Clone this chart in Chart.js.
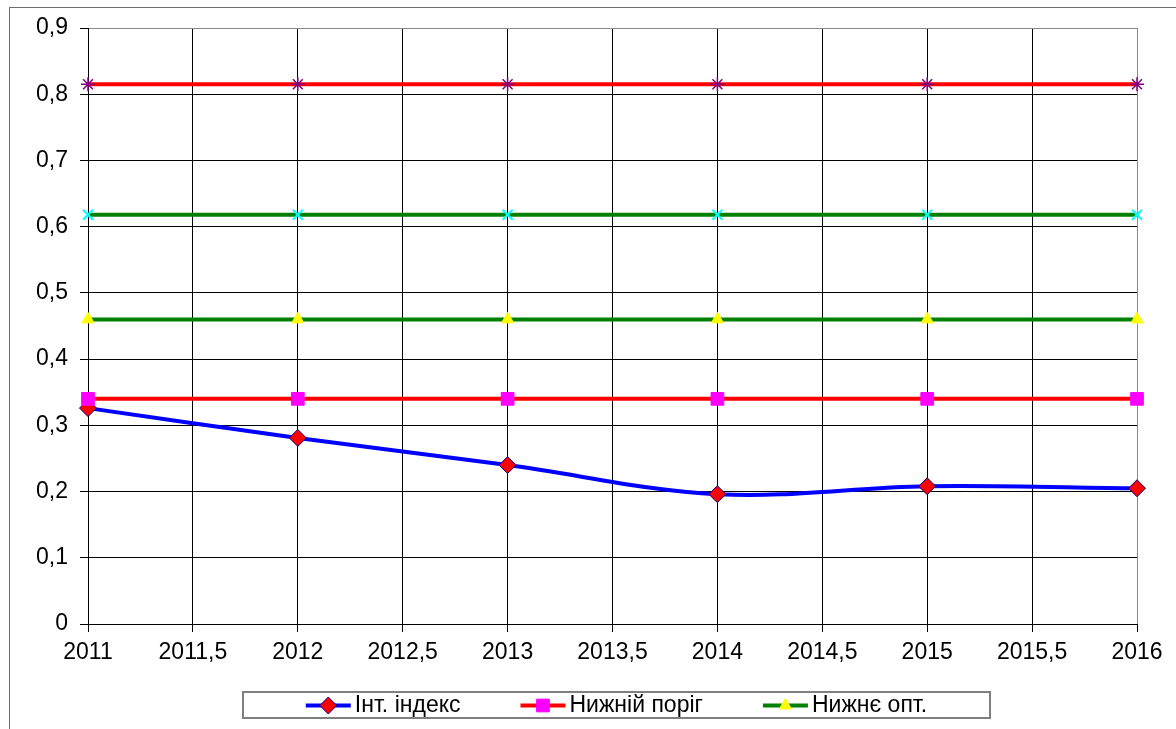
<!DOCTYPE html>
<html>
<head>
<meta charset="utf-8">
<script src="https://cdn.jsdelivr.net/npm/chart.js@4.4.0/dist/chart.umd.min.js"></script>
<style>
    html, body { margin: 0; padding: 0; background: #fff; }
    #wrap { width: 1176px; height: 729px; }
</style>
</head>
<body>
<div id="wrap"><canvas id="indexChart" width="1176" height="729"></canvas></div>
<script>
// дані
var years = [2011, 2012, 2013, 2014, 2015, 2016];
var intIndex = [0.326, 0.281, 0.240, 0.196, 0.208, 0.205];
var lowerThreshold = [0.34, 0.34, 0.34, 0.34, 0.34, 0.34];
var lowerOpt = [0.46, 0.46, 0.46, 0.46, 0.46, 0.46];
var upperOpt = [0.618, 0.618, 0.618, 0.618, 0.618, 0.618];
var upperThreshold = [0.815, 0.815, 0.815, 0.815, 0.815, 0.815];
var seriesNames = ['Інт. індекс', 'Нижній поріг', 'Нижнє опт.', 'Верхнє опт.', 'Верхній поріг'];
var xMin = 2011, xMax = 2016, xStep = 0.5;
var yMin = 0, yMax = 0.9, yStep = 0.1;

var FONT = '"Liberation Sans", Arial, sans-serif';
Chart.defaults.font.family = FONT;
Chart.defaults.font.size = 23;
Chart.defaults.color = '#000';

function points(values) {
    var pts = [];
    for (var i = 0; i < years.length; i++) {
        pts.push({ x: years[i], y: values[i] });
    }
    return pts;
}

function comma(v) {
    return String(v).replace('.', ',');
}

// рамка області діаграми (видно лише зліва та зверху)
var frame = {
    id: 'frame',
    beforeDraw: function (chart) {
        var ctx = chart.ctx;
        ctx.save();
        ctx.strokeStyle = '#6e6e6e';
        ctx.lineWidth = 1;
        ctx.strokeRect(9.5, 7.5, 1400, 900);
        ctx.restore();
    }
};

// легенда в рамці, як в Excel: лінія + маркер + підпис
var boxLegend = {
    id: 'boxLegend',
    afterDraw: function (chart) {
        var ctx = chart.ctx;
        var box = { x: 243, y: 692, w: 747, h: 26 };
        var lineLen = 45, textGap = 4, itemGap = 60;
        var shown = [0, 1, 2];

        ctx.save();
        ctx.font = '23px ' + FONT;
        var widths = shown.map(function (i) {
            return lineLen + textGap + ctx.measureText(chart.data.datasets[i].label).width;
        });
        var total = widths.reduce(function (a, b) { return a + b; }, 0) + itemGap * (shown.length - 1);
        var x = box.x + (box.w - total) / 2;
        var cy = box.y + box.h / 2 + 0.5;

        ctx.strokeStyle = '#7f7f7f';
        ctx.lineWidth = 2;
        ctx.strokeRect(box.x, box.y, box.w, box.h);

        shown.forEach(function (i, k) {
            var ds = chart.data.datasets[i];
            ctx.strokeStyle = ds.borderColor;
            ctx.lineWidth = ds.borderWidth;
            ctx.beginPath();
            ctx.moveTo(x, cy);
            ctx.lineTo(x + lineLen, cy);
            ctx.stroke();

            ctx.fillStyle = ds.pointBackgroundColor;
            ctx.strokeStyle = ds.pointBorderColor;
            ctx.lineWidth = ds.pointBorderWidth;
            Chart.helpers.drawPoint(ctx, {
                pointStyle: ds.pointStyle,
                radius: ds.pointRadius,
                rotation: 0,
                borderWidth: ds.pointBorderWidth
            }, x + lineLen / 2, cy);

            ctx.fillStyle = '#000';
            ctx.textAlign = 'left';
            ctx.textBaseline = 'middle';
            ctx.fillText(ds.label, x + lineLen + textGap, cy);
            x += widths[k] + itemGap;
        });
        ctx.restore();
    }
};

var context = document.getElementById('indexChart').getContext('2d');
var indexChart = new Chart(context, {
    type: 'line',
    data: {
        datasets: [{
            label: seriesNames[0],
            data: points(intIndex),
            borderColor: '#0000FF',
            borderWidth: 4,
            tension: 0.35,
            pointStyle: 'rectRot',
            pointRadius: 8.5,
            pointBackgroundColor: '#FF0000',
            pointBorderColor: '#000080',
            pointBorderWidth: 1,
            order: 5
        }, {
            label: seriesNames[1],
            data: points(lowerThreshold),
            borderColor: '#FF0000',
            borderWidth: 4,
            pointStyle: 'rect',
            pointRadius: 9,
            pointBackgroundColor: '#FF00FF',
            pointBorderColor: '#FF00FF',
            pointBorderWidth: 1,
            order: 4
        }, {
            label: seriesNames[2],
            data: points(lowerOpt),
            borderColor: '#008000',
            borderWidth: 4,
            pointStyle: 'triangle',
            pointRadius: 7,
            pointBackgroundColor: '#FFFF00',
            pointBorderColor: '#FFFF00',
            pointBorderWidth: 1,
            order: 3
        }, {
            label: seriesNames[3],
            data: points(upperOpt),
            borderColor: '#008000',
            borderWidth: 4,
            pointStyle: 'crossRot',
            pointRadius: 7,
            pointBackgroundColor: '#00FFFF',
            pointBorderColor: '#00FFFF',
            pointBorderWidth: 2,
            order: 2
        }, {
            label: seriesNames[4],
            data: points(upperThreshold),
            borderColor: '#FF0000',
            borderWidth: 4,
            pointStyle: 'star',
            pointRadius: 7,
            pointBackgroundColor: '#800080',
            pointBorderColor: '#800080',
            pointBorderWidth: 1.5,
            order: 1
        }]
    },
    options: {
        responsive: false,
        animation: false,
        devicePixelRatio: 1,
        clip: false,
        layout: {
            padding: { left: 0, top: 28, right: 39, bottom: 0 }
        },
        plugins: {
            legend: { display: false },
            tooltip: { enabled: false }
        },
        scales: {
            x: {
                type: 'linear',
                min: xMin,
                max: xMax,
                afterFit: function (scale) { scale.height = 105; },
                ticks: {
                    stepSize: xStep,
                    autoSkip: false,
                    maxRotation: 0,
                    padding: 7,
                    callback: function (v) { return comma(v); }
                },
                grid: {
                    tickLength: 8,
                    tickColor: '#000',
                    color: function (c) {
                        return c.tick && c.tick.value === xMax ? '#8a8a8a' : '#000';
                    }
                },
                border: { display: true, color: '#000' }
            },
            y: {
                min: yMin,
                max: yMax,
                afterFit: function (scale) { scale.width = 88; },
                ticks: {
                    stepSize: yStep,
                    padding: 12,
                    callback: function (v) { return v === 0 ? '0' : comma(v.toFixed(1)); }
                },
                grid: {
                    tickLength: 8,
                    tickColor: '#000',
                    color: function (c) {
                        return c.tick && Math.abs(c.tick.value - yMax) < 1e-6 ? '#8a8a8a' : '#000';
                    }
                },
                border: { display: true, color: '#000' }
            }
        }
    },
    plugins: [frame, boxLegend]
});
</script>
</body>
</html>
